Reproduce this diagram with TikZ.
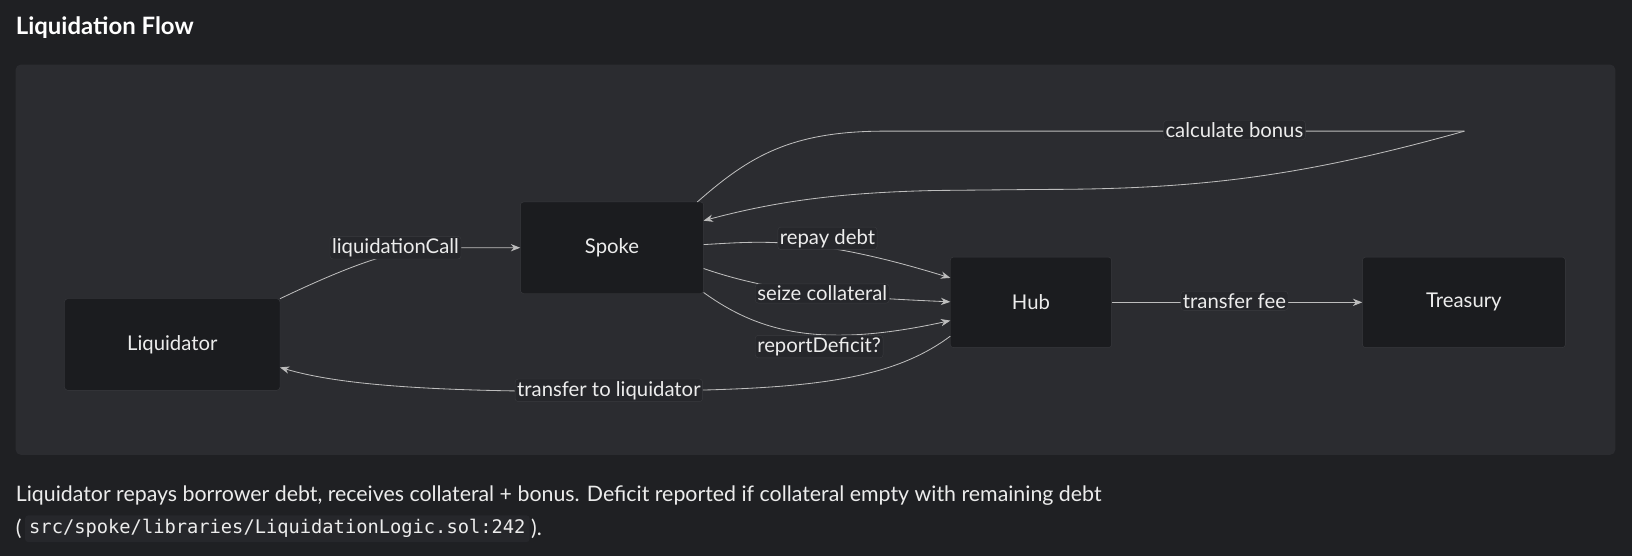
\documentclass[tikz,border=0pt]{standalone}
\usepackage{fontspec}
\setmainfont{Lato}
\setmonofont{DejaVu Sans Mono}
\usetikzlibrary{arrows.meta}
\definecolor{bg}{HTML}{1F2023}
\definecolor{panel}{HTML}{2B2C30}
\definecolor{nodefill}{HTML}{1B1C1F}
\definecolor{nodeline}{HTML}{3A3B3F}
\definecolor{edge}{HTML}{BDBDBD}
\definecolor{lblfill}{HTML}{26272B}
\definecolor{txt}{HTML}{ECECEC}
\begin{document}
\begin{tikzpicture}[x=1pt,y=-1pt,
  box/.style={draw=nodeline,fill=nodefill,rounded corners=3pt,text=txt,font=\fontsize{19.5}{22}\selectfont,inner sep=0pt},
  lbl/.style={fill=lblfill,draw=nodeline,rounded corners=3pt,text=txt,font=\fontsize{19.5}{22}\selectfont,inner xsep=2pt,inner ysep=2pt},
  arr/.style={draw=edge,line width=0.8pt,-{Stealth[length=9pt,width=7pt]}},
  ln/.style={draw=edge,line width=0.8pt}]
\useasboundingbox (0,0) rectangle (1568,534);
\fill[bg] (0,0) rectangle (1568,534);
\node[anchor=west,text=white,font=\bfseries\fontsize{23}{26}\selectfont,inner xsep=0pt] (title) at (15,27) {Liquidation Flow};
\fill[panel,rounded corners=5pt] (15,62) rectangle (1552,437);
\node[box,minimum width=207pt,minimum height=88pt] (liq) at (165.5,331) {Liquidator};
\node[box,minimum width=176pt,minimum height=88pt] (spoke) at (588,238) {Spoke};
\node[box,minimum width=155pt,minimum height=87pt] (hub) at (990.5,290.5) {Hub};
\node[box,minimum width=195pt,minimum height=87pt] (treas) at (1406.5,290.5) {Treasury};
\coordinate (loop) at (1407,126);
% liquidationCall
\draw[arr] (269,287) .. controls (330,258) and (380,238) .. (420,238) -- (spoke.west);
\node[lbl] (l1) at (380,238) {liquidationCall};
% calculate bonus loop
\draw[ln] (670,194) .. controls (720,150) and (760,126) .. (850,126) -- (loop);
\draw[arr] (loop) .. controls (1250,170) and (1150,182) .. (1000,182) -- (900,183) .. controls (800,185) and (740,195) .. (676,212);
\node[lbl] (l2) at (1186,125) {calculate bonus};
% repay debt
\draw[arr] (676,235) .. controls (730,232) and (780,226) .. (913,267);
\node[lbl] (l3) at (795,229) {repay debt};
% seize collateral
\draw[arr] (676,258) .. controls (740,280) and (800,285) .. (913,290);
\node[lbl] (l4) at (790,282) {seize collateral};
% reportDeficit
\draw[arr] (676,281) .. controls (730,320) and (790,335) .. (913,308);
\node[lbl] (l5) at (787,333) {reportDeficit?};
% transfer to liquidator
\draw[arr] (913,323) .. controls (850,370) and (760,375) .. (585,376) .. controls (400,377) and (320,368) .. (269,353);
\node[lbl] (l6) at (585,375) {transfer to liquidator};
% transfer fee
\draw[arr] (hub.east) -- (treas.west);
\node[lbl] (l7) at (1186,289) {transfer fee};
% footer
\node[anchor=west,text=txt,font=\fontsize{20.5}{24}\selectfont,inner xsep=0pt] (f1) at (15,476) {Liquidator repays borrower debt, receives collateral + bonus. Deficit reported if collateral empty with remaining debt};
\node[anchor=west,text=txt,font=\fontsize{20.5}{24}\selectfont,inner xsep=0pt] (f2a) at (15,508) {(};
\node[anchor=west,fill=lblfill,rounded corners=3pt,text=txt,font=\ttfamily\fontsize{18}{21}\selectfont,inner xsep=4pt,inner ysep=4pt] (code) at ([xshift=3pt]f2a.east) {src/spoke/libraries/LiquidationLogic.sol:242};
\node[anchor=west,text=txt,font=\fontsize{20.5}{24}\selectfont,inner xsep=1pt] (f2b) at (code.east) {).};
\end{tikzpicture}
\end{document}
